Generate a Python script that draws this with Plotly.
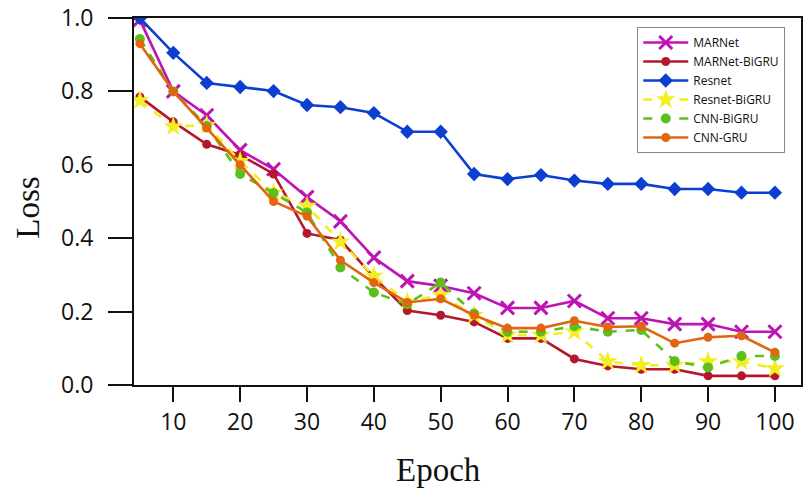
import plotly.graph_objects as go

epochs = list(range(5, 101, 5))

marnet = [0.995, 0.80, 0.735, 0.64, 0.588, 0.512, 0.446, 0.347, 0.283, 0.27,
          0.25, 0.21, 0.21, 0.229, 0.182, 0.182, 0.166, 0.166, 0.145, 0.145]
marnet_bigru = [0.785, 0.717, 0.656, 0.627, 0.575, 0.413, 0.395, 0.294, 0.203, 0.19,
                0.172, 0.127, 0.127, 0.071, 0.052, 0.043, 0.043, 0.025, 0.025, 0.025]
resnet = [1.0, 0.905, 0.823, 0.812, 0.801, 0.763, 0.757, 0.741, 0.69, 0.69,
          0.575, 0.561, 0.572, 0.557, 0.548, 0.548, 0.534, 0.534, 0.524, 0.524]
resnet_bigru = [0.775, 0.704, 0.708, 0.61, 0.524, 0.488, 0.39, 0.297, 0.227, 0.245,
                0.19, 0.136, 0.136, 0.145, 0.064, 0.054, 0.054, 0.064, 0.064, 0.045]
cnn_bigru = [0.943, 0.80, 0.706, 0.575, 0.523, 0.47, 0.32, 0.252, 0.22, 0.279,
             0.195, 0.145, 0.145, 0.16, 0.145, 0.15, 0.065, 0.048, 0.079, 0.079]
cnn_gru = [0.93, 0.80, 0.70, 0.60, 0.50, 0.46, 0.34, 0.279, 0.225, 0.235,
           0.19, 0.155, 0.155, 0.175, 0.158, 0.16, 0.114, 0.13, 0.134, 0.089]

x_ticks = [10, 20, 30, 40, 50, 60, 70, 80, 90, 100]
y_ticks = [0.0, 0.2, 0.4, 0.6, 0.8, 1.0]

series = [
    ("MARNet", marnet, "#BE14B4", "solid", "x-thin", 13),
    ("MARNet-BiGRU", marnet_bigru, "#B5182E", "solid", "circle", 9),
    ("Resnet", resnet, "#0C3FD0", "solid", "diamond", 11),
    ("Resnet-BiGRU", resnet_bigru, "#F2EE22", "dash", "star", 15),
    ("CNN-BiGRU", cnn_bigru, "#5DBF1C", "dash", "circle", 10),
    ("CNN-GRU", cnn_gru, "#E2650F", "solid", "circle", 9),
]

fig = go.Figure()
for name, vals, color, dash, sym, size in series:
    marker = dict(symbol=sym, size=size, color=color)
    if sym == "x-thin":
        marker["line"] = dict(width=3, color=color)
    fig.add_trace(go.Scatter(
        x=epochs, y=vals, name=name, mode="lines+markers",
        line=dict(color=color, width=2.6, dash=dash),
        marker=marker,
    ))

axis_common = dict(
    showline=True, linecolor="#111", linewidth=2, mirror=True,
    ticks="outside", tickwidth=2, tickcolor="#111",
    showgrid=False, zeroline=False, automargin=False,
    ticklabeloverflow="allow",
    tickfont=dict(family="Open Sans", size=23, color="#111"),
)

title_font = dict(family="Liberation Serif", size=33, color="#111")

fig.update_layout(
    width=805, height=495,
    margin=dict(l=134, r=4, t=18, b=110),
    paper_bgcolor="white", plot_bgcolor="white",
    xaxis=dict(range=[4.12, 103.9], tickvals=x_ticks, ticklen=15, **axis_common),
    yaxis=dict(range=[0, 1.0], tickvals=y_ticks, tickformat=".1f", ticklen=24,
               ticklabelstandoff=10, **axis_common),
    legend=dict(x=0.7545, y=0.9755, xanchor="left", yanchor="top",
                bgcolor="white", bordercolor="#888", borderwidth=1,
                font=dict(family="Open Sans", size=12, color="#111"),
                tracegroupgap=0, itemwidth=45),
    showlegend=True,
    annotations=[
        dict(text="Loss", xref="paper", yref="paper", x=-0.159, y=0.483,
             showarrow=False, textangle=-90, font=title_font,
             xanchor="center", yanchor="middle"),
        dict(text="Epoch", xref="paper", yref="paper", x=0.456, y=-0.232,
             showarrow=False, font=title_font, xanchor="center", yanchor="middle"),
    ],
)

# remove the browser's default 8px body margin so the figure sits at the page origin
fig.write_html("out.html", config={"displayModeBar": False},
               post_script="document.body.style.margin='0';")
